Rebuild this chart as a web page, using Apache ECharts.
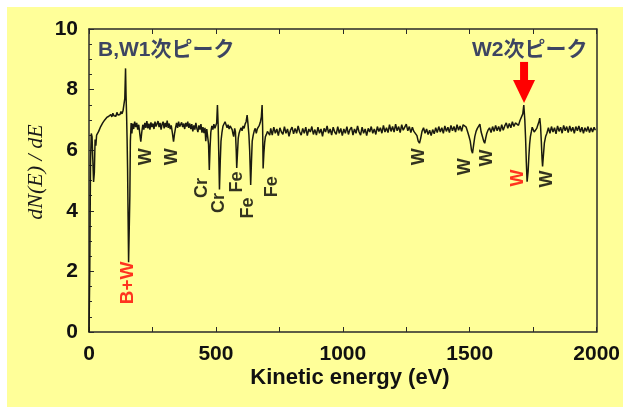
<!DOCTYPE html>
<html>
<head>
<meta charset="utf-8">
<script src="https://cdn.jsdelivr.net/npm/echarts@6/dist/echarts.min.js"></script>
<style>
html,body{margin:0;padding:0;background:#fff;}
#bg{position:absolute;left:7px;top:7px;width:616px;height:400px;background:#FFFF99;}
#chart{position:absolute;left:0;top:0;width:623px;height:407px;}
</style>
</head>
<body>
<div id="bg"></div>
<div id="chart"></div>
<script>
// ---- data: [kinetic energy (eV), dN(E)/dE] ----
var regionLowE = [[0,0],[3,2.0],[6,5.6],[9,6.55],[12,6.45],[15,5.7],[18,4.95],[21,5.25],[24,6.35],[27,6.15],[30,6.5],[34,6.45],[38,6.62],[42,6.6],[46,6.78],[50,6.72],[54,6.9],[58,6.86],[62,7.0],[66,6.95],[70,7.08],[74,7.02],[78,7.12],[82,7.06],[86,7.18],[90,7.1],[94,7.22],[98,7.14],[102,7.2],[106,7.12],[110,7.25],[114,7.16],[118,7.22],[122,7.18],[126,7.28],[130,7.2],[134,7.3],[138,7.35],[141,7.7],[144,8.7],[146,7.8],[148,7.2],[150,6.4],[152,5.4],[154,3.8],[156,2.3],[159,2.3],[161,4.5],[163,6.3],[166,6.9],[169,6.55]];
var regionW1 = [[172,6.88],[176,6.7],[180,6.94],[184,6.76],[188,6.9],[192,6.68],[196,6.84],[200,6.55],[204,6.28],[208,6.6],[212,6.84],[216,6.68],[220,6.9],[224,6.74],[228,6.96],[232,6.72],[236,6.88],[240,6.68],[244,6.92],[248,6.76],[252,6.88],[256,6.7],[260,6.94],[264,6.78],[268,6.72],[272,6.96],[276,6.76],[280,6.9],[284,6.68],[288,6.86],[292,6.94],[296,6.72],[300,6.9],[304,6.76],[308,6.98],[312,6.74],[316,6.88],[320,6.7],[324,6.82],[328,6.6],[333,6.28],[337,6.55],[341,6.74],[345,6.9],[349,6.74],[353,6.94],[357,6.78],[361,6.72],[365,6.92],[369,6.76],[373,6.88],[377,6.7],[381,6.9],[385,6.78],[389,6.94],[393,6.74],[397,6.88],[401,6.7],[405,6.86],[409,6.62],[413,6.82],[417,6.68],[421,6.9],[425,6.72],[429,6.6],[433,6.82],[437,6.68],[441,6.86],[445,6.58],[449,6.76],[453,6.56],[457,6.74]];
var regionCrFe = [[460,6.3],[464,6.7],[468,6.75],[471,6.2],[474,5.35],[477,6.1],[480,6.6],[484,6.8],[488,6.68],[492,6.86],[496,6.72],[500,6.7],[503,6.9],[506,7.49],[509,6.8],[511,6.0],[514,4.7],[517,5.6],[520,6.3],[524,6.6],[528,6.8],[532,6.86],[536,6.94],[540,6.84],[544,6.74],[548,6.84],[552,6.7],[556,6.8],[560,6.84],[564,6.68],[567,6.55],[570,6.45],[574,6.72],[577,6.6],[580,6.0],[582,5.41],[585,5.9],[588,6.4],[591,6.55],[595,6.66],[599,6.74],[603,6.64],[607,6.8],[611,6.72],[615,6.86],[619,6.94],[623,7.16],[626,6.9],[630,6.5],[633,6.0],[637,4.85],[640,5.6],[643,6.3],[647,6.5],[651,6.64],[655,6.72],[659,6.56],[663,6.7],[667,6.76],[671,6.82],[675,6.92],[679,7.1],[682,7.49],[684,6.8],[686,5.4],[689,5.9],[692,6.25],[695,6.45],[699,6.52],[703,6.62],[708,6.6],[712,6.5]];
var regionFlat = [[716,6.72],[722,6.5],[728,6.76],[734,6.56],[740,6.7],[746,6.48],[752,6.74],[758,6.6],[764,6.52],[770,6.78],[776,6.56],[782,6.7],[788,6.46],[794,6.66],[800,6.76],[806,6.54],[812,6.72],[818,6.56],[824,6.8],[830,6.6],[836,6.5],[842,6.72],[848,6.56],[854,6.76],[860,6.48],[866,6.7],[872,6.6],[878,6.78],[884,6.52],[890,6.68],[896,6.5],[902,6.76],[908,6.56],[914,6.7],[920,6.46],[926,6.72],[932,6.6],[938,6.8],[944,6.56],[950,6.7],[956,6.5],[962,6.76],[968,6.6],[974,6.52],[980,6.78],[986,6.56],[992,6.72],[998,6.48],[1004,6.7],[1010,6.56],[1016,6.78],[1022,6.52],[1028,6.68],[1034,6.76],[1040,6.5],[1046,6.7],[1052,6.56],[1058,6.8],[1064,6.6],[1070,6.5],[1076,6.76],[1082,6.56],[1088,6.7],[1094,6.48],[1100,6.72],[1106,6.6],[1112,6.78],[1118,6.56],[1124,6.7],[1130,6.52],[1136,6.78],[1142,6.62],[1148,6.74],[1154,6.56],[1160,6.82],[1166,6.6],[1172,6.74],[1178,6.58],[1184,6.84],[1190,6.62],[1196,6.78],[1202,6.6],[1208,6.86],[1214,6.64],[1220,6.78],[1226,6.58],[1232,6.84],[1238,6.66],[1244,6.62],[1250,6.86],[1256,6.64],[1262,6.78],[1268,6.58],[1274,6.76],[1280,6.62],[1286,6.56],[1292,6.48],[1297,6.3],[1302,6.23],[1307,6.4],[1312,6.62]];
var regionHighE = [[1318,6.74],[1324,6.56],[1330,6.7],[1336,6.52],[1342,6.66],[1348,6.48],[1354,6.68],[1360,6.54],[1366,6.74],[1372,6.58],[1378,6.78],[1384,6.6],[1390,6.74],[1396,6.56],[1402,6.8],[1408,6.62],[1414,6.76],[1420,6.58],[1426,6.82],[1432,6.64],[1438,6.78],[1444,6.6],[1450,6.84],[1456,6.66],[1462,6.8],[1468,6.62],[1474,6.84],[1480,6.9],[1486,6.76],[1492,6.6],[1497,6.46],[1502,6.3],[1507,6.0],[1511,5.9],[1515,6.15],[1520,6.45],[1525,6.62],[1530,6.72],[1535,6.78],[1540,6.86],[1545,6.6],[1550,6.45],[1555,6.3],[1559,6.23],[1563,6.4],[1567,6.55],[1572,6.66],[1578,6.74],[1584,6.58],[1590,6.78],[1596,6.62],[1602,6.82],[1608,6.64],[1614,6.78],[1620,6.62],[1626,6.84],[1632,6.66],[1638,6.8],[1644,6.9],[1650,6.72],[1656,6.88],[1662,6.74],[1668,6.94],[1674,6.78],[1680,6.9],[1686,6.96],[1692,6.82],[1698,6.98],[1704,7.0],[1709,7.2],[1713,7.49],[1717,7.0],[1720,6.4],[1723,5.6],[1726,4.96],[1730,5.3],[1733,5.8],[1736,6.2],[1739,6.45],[1743,6.62],[1746,6.76],[1750,6.68],[1754,6.6],[1759,6.58],[1764,6.72],[1768,6.82],[1772,6.92],[1776,7.06],[1779,6.8],[1782,6.3],[1785,5.7],[1787,5.46],[1790,5.8],[1794,6.23],[1799,6.45],[1804,6.56],[1810,6.74],[1816,6.56],[1822,6.78],[1828,6.6],[1834,6.74],[1840,6.54],[1846,6.8],[1852,6.62],[1858,6.76],[1864,6.56],[1870,6.82],[1876,6.64],[1882,6.78],[1888,6.58],[1894,6.8],[1900,6.62],[1906,6.76],[1912,6.56],[1918,6.78],[1924,6.64],[1930,6.8],[1936,6.6],[1942,6.76],[1948,6.56],[1954,6.74],[1960,6.62],[1966,6.78],[1972,6.58],[1978,6.74],[1984,6.6],[1990,6.76],[1995,6.66]];

// peak labels (text, energy, dN/dE position, colour)
var labelText  = ['W','W','Cr','Cr','Fe','Fe','Fe','W','W','W','W','W','B+W'];
var labelE     = [224,327,446,512,583,627,720,1302,1482,1570,1692,1804,154];
var labelV     = [5.78,5.78,4.75,4.26,4.95,4.09,4.79,5.78,5.45,5.74,5.08,5.05,1.62];
var labelColor = ['#000','#000','#000','#000','#000','#000','#000','#000','#000','#000','#ff0000','#000','#ff0000'];

var xTicks = [0,500,1000,1500,2000];
var yTicks = [0,2,4,6,8,10];

var spectrum = [].concat(regionLowE, regionW1, regionCrFe, regionFlat, regionHighE);

var labelData = labelText.map(function(t,i){
  return {
    value:[labelE[i], labelV[i]],
    label:{show:true, formatter:t, color:labelColor[i], fontSize: t==='B+W'?19:18}
  };
});

var chart = echarts.init(document.getElementById('chart'));
var axisColor = '#2a2a2a';
var tickFont = {fontFamily:'Liberation Sans, Arial, sans-serif', fontWeight:'bold', fontSize:21, color:'#111'};
chart.setOption({
  animation:false,
  backgroundColor:'transparent',
  grid:{left:89, right:23, top:29, bottom:75},
  xAxis:[{
    type:'value', min:xTicks[0], max:xTicks[xTicks.length-1], interval:500,
    axisLine:{show:true, lineStyle:{color:axisColor, width:1.5}},
    axisTick:{show:true, inside:true, length:5, lineStyle:{color:axisColor}},
    minorTick:{show:true, splitNumber:2, length:5, lineStyle:{color:axisColor}},
    splitLine:{show:false},
    axisLabel:Object.assign({margin:12, formatter:function(v){return String(v);}}, tickFont)
  },{
    type:'value', position:'top', min:0, max:2000, interval:500,
    axisLine:{show:true, onZero:false, lineStyle:{color:axisColor, width:1.5}},
    axisTick:{show:true, inside:true, length:5, lineStyle:{color:axisColor}},
    minorTick:{show:true, splitNumber:2, length:5, lineStyle:{color:axisColor}},
    axisLabel:{show:false}, splitLine:{show:false}
  }],
  yAxis:[{
    type:'value', min:yTicks[0], max:yTicks[yTicks.length-1], interval:2,
    axisLine:{show:true, lineStyle:{color:axisColor, width:1.5}},
    axisTick:{show:true, inside:true, length:5, lineStyle:{color:axisColor}},
    minorTick:{show:true, splitNumber:4, length:3, lineStyle:{color:axisColor}},
    splitLine:{show:false},
    axisLabel:Object.assign({margin:11}, tickFont)
  },{
    type:'value', position:'right', min:0, max:10,
    axisLine:{show:true, onZero:false, lineStyle:{color:axisColor, width:1.5}},
    axisTick:{show:false}, axisLabel:{show:false}, splitLine:{show:false}
  }],
  series:[{
    type:'line', data:spectrum, showSymbol:false, symbol:'none',
    lineStyle:{color:'#1a1a10', width:1.5}, z:3
  },{
    type:'scatter', data:labelData, symbolSize:1,
    itemStyle:{color:'rgba(0,0,0,0)'},
    label:{show:true, position:'inside', rotate:90, fontFamily:'Liberation Sans, Arial, sans-serif', fontWeight:'bold'},
    z:4
  }]
});

// annotations positioned through the chart's own scales
var tip = chart.convertToPixel({gridIndex:0}, [1714, 7.56]);
var titleFont = 'bold 21px "Liberation Sans", "Noto Sans CJK JP", sans-serif';
chart.setOption({
  graphic:[
    {type:'text', left:98, top:40, style:{text:'B,W1次ピーク', font:titleFont, fill:'#3d4562'}, z:10},
    {type:'text', left:472, top:40, style:{text:'W2次ピーク', font:titleFont, fill:'#3d4562'}, z:10},
    {type:'rect', shape:{x:tip[0]-4, y:tip[1]-41, width:8, height:19}, style:{fill:'#ff0000'}, z:10},
    {type:'polygon', shape:{points:[[tip[0]-11,tip[1]-23],[tip[0]+11,tip[1]-23],[tip[0],tip[1]]]}, style:{fill:'#ff0000'}, z:10},
    {type:'text', x:36, y:172, rotation:Math.PI/2, style:{text:'dN(E) / dE', font:'italic 22px "Liberation Serif", "Times New Roman", serif', fill:'#1a1a1a', textAlign:'center', textVerticalAlign:'middle'}, z:10},
    {type:'text', x:350, y:378, style:{text:'Kinetic energy (eV)', font:'bold 22px "Liberation Sans", Arial, sans-serif', fill:'#111', textAlign:'center', textVerticalAlign:'middle'}, z:10}
  ]
});
</script>
</body>
</html>
